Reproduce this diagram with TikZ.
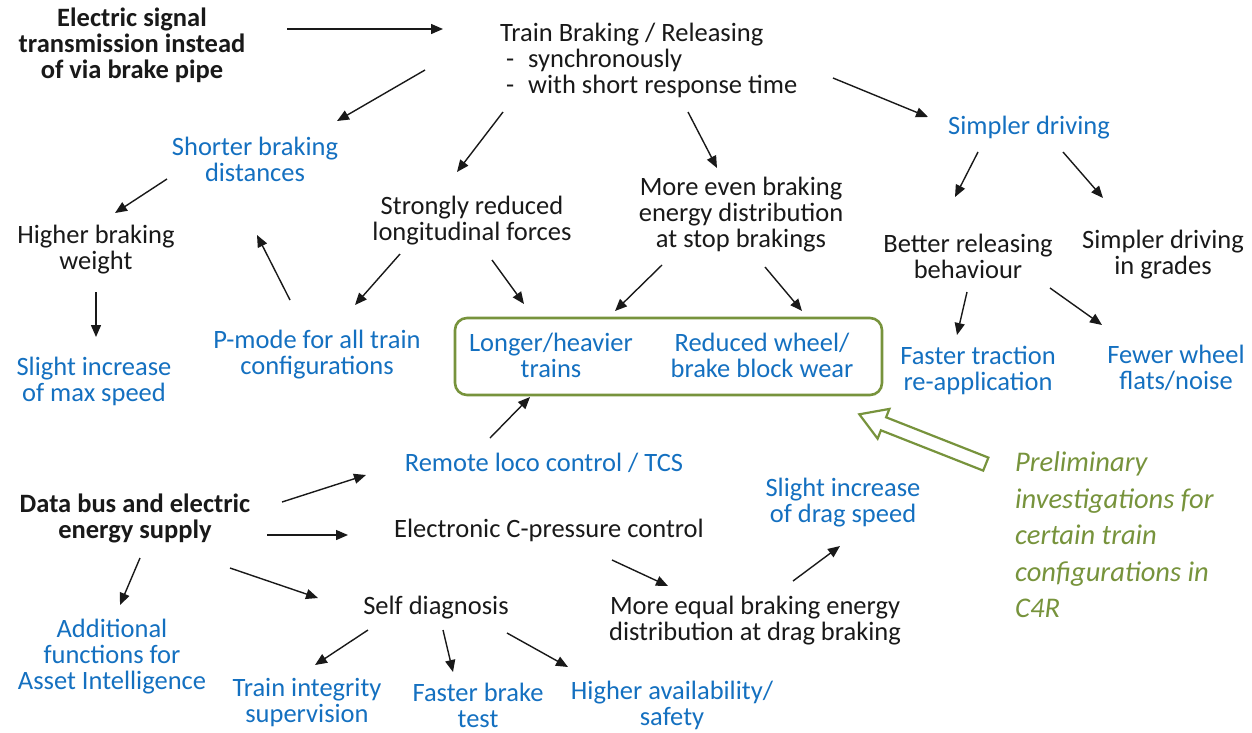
\documentclass[tikz,border=0pt]{standalone}
\usepackage{fontspec}
\setmainfont{Carlito}
\usetikzlibrary{arrows.meta}

\definecolor{effblue}{RGB}{20,112,192}
\definecolor{c4rgreen}{RGB}{119,147,60}
\definecolor{ink}{RGB}{25,25,25}

\begin{document}
\begin{tikzpicture}[x=1pt,y=-1pt,
  base/.style={inner sep=0pt, align=center, text=ink,
               font=\fontsize{26.5}{26}\selectfont},
  cause/.style={base, font=\bfseries\fontsize{26.5}{26}\selectfont},
  effect/.style={base, text=effblue},
  note/.style={inner sep=0pt, align=left, text=c4rgreen,
               font=\itshape\fontsize{28.5}{36.5}\selectfont},
  arr/.style={draw=ink, line width=1.4pt, -{Triangle[length=12pt,width=10pt]}},
  groupbox/.style={draw=c4rgreen, line width=2.6pt, rounded corners=12pt,
                   minimum width=427pt, minimum height=77pt, inner sep=0pt},
]
\useasboundingbox (0,0) rectangle (1252,732);

% ---------- upper half: electric signal transmission ----------
\node[cause] (elec) at (132,45) {Electric signal\\transmission instead\\of via brake pipe};
\node[base, align=left, anchor=west] (train) at (500,60)
  {Train Braking / Releasing\\\makebox[28pt][l]{\ -}synchronously\\\makebox[28pt][l]{\ -}with short response time};

\node[effect] (shorter) at (255,159) {Shorter braking\\distances};
\node[base] (higher) at (96,250) {Higher braking\\weight};
\node[effect] (slightmax) at (94,381) {Slight increase\\of max speed};
\node[effect] (pmode) at (317,355) {P-mode for all train\\configurations};
\node[base] (strongly) at (472,221) {Strongly reduced\\longitudinal forces};
\node[base] (moreeven) at (741,215) {More even braking\\energy distribution\\at stop brakings};
\node[effect] (simpler) at (1029,128) {Simpler driving};
\node[base] (better) at (968,256) {Better releasing\\behaviour};
\node[base] (grades) at (1163,255) {Simpler driving\\in grades};
\node[effect] (traction) at (978,370) {Faster traction\\re-application};
\node[effect] (fewer) at (1176,368) {Fewer wheel\\flats/noise};

% common benefits, framed
\node[groupbox] (box) at (668.5,356.5) {};
\node[effect] (longer) at (551,355) {Longer/heavier\\trains};
\node[effect] (reduced) at (762,355) {Reduced wheel/\\brake block wear};

% ---------- lower half: data bus and energy supply ----------
\node[cause] (databus) at (135,518) {Data bus and electric\\energy supply};
\node[effect] (remote) at (544,463) {Remote loco control / TCS};
\node[base] (electronic) at (549,530) {Electronic C-pressure control};
\node[effect] (additional) at (112,657) {Additional\\functions for\\Asset Intelligence};
\node[base] (selfdiag) at (436,608) {Self diagnosis};
\node[base] (moredrag) at (755,621) {More equal braking energy\\distribution at drag braking};
\node[effect] (slightdrag) at (843,503) {Slight increase\\of drag speed};
\node[effect] (integrity) at (307,703) {Train integrity\\supervision};
\node[effect] (fasterbrake) at (478,705) {Faster brake\\test};
\node[effect] (avail) at (672,705) {Higher availability/\\safety};

\node[note, anchor=west] (prelim) at (1015,535)
  {Preliminary\\investigations for\\certain train\\configurations in\\C4R};

% ---------- connectors ----------
\draw[arr] ([shift={(155,-16)}]elec.center) -- ([shift={(-57,-31)}]train.west);
\draw[arr] ([shift={(-75,10)}]train.west) -- ([shift={(82,-38)}]shorter.center);
\draw[arr] ([shift={(3,52)}]train.west) -- ([shift={(-15,-49)}]strongly.center);
\draw[arr] ([shift={(188,52)}]train.west) -- ([shift={(-24,-47)}]moreeven.center);
\draw[arr] ([shift={(333,18)}]train.west) -- ([shift={(-101,-11)}]simpler.center);
\draw[arr] ([shift={(-88,20)}]shorter.center) -- ([shift={(19,-37)}]higher.center);
\draw[arr] ([shift={(0,42)}]higher.center) -- ([shift={(2,-44)}]slightmax.center);
\draw[arr] ([shift={(-27,-55)}]pmode.center) -- ([shift={(2,76)}]shorter.center);
\draw[arr] ([shift={(-72,33)}]strongly.center) -- ([shift={(38,-50)}]pmode.center);
\draw[arr] ([shift={(20,39)}]strongly.center) -- ([shift={(-27,-51)}]longer.center);
\draw[arr] ([shift={(-79,50)}]moreeven.center) -- ([shift={(64,-44)}]longer.center);
\draw[arr] ([shift={(24,52)}]moreeven.center) -- ([shift={(40,-44)}]reduced.center);
\draw[arr] ([shift={(-51,24)}]simpler.center) -- ([shift={(-13,-59)}]better.center);
\draw[arr] ([shift={(34,24)}]simpler.center) -- ([shift={(-60,-57)}]grades.center);
\draw[arr] ([shift={(-1,36)}]better.center) -- ([shift={(-21,-35)}]traction.center);
\draw[arr] ([shift={(82,32)}]better.center) -- ([shift={(-74,-43)}]fewer.center);

\draw[arr] ([shift={(-54,-25)}]remote.center) -- ([shift={(-21,42)}]longer.center);
\draw[arr] ([shift={(147,-16)}]databus.center) -- ([shift={(-178,12)}]remote.center);
\draw[arr] ([shift={(132,17)}]databus.center) -- ([shift={(-201,5)}]electronic.center);
\draw[arr] ([shift={(5,40)}]databus.center) -- ([shift={(8,-52)}]additional.center);
\draw[arr] ([shift={(95,50)}]databus.center) -- ([shift={(-118,-10)}]selfdiag.center);
\draw[arr] ([shift={(63,30)}]electronic.center) -- ([shift={(-87,-35)}]moredrag.center);
\draw[arr] ([shift={(38,-40)}]moredrag.center) -- ([shift={(-3,43)}]slightdrag.center);
\draw[arr] ([shift={(-68,22)}]selfdiag.center) -- ([shift={(8,-38)}]integrity.center);
\draw[arr] ([shift={(7,22)}]selfdiag.center) -- ([shift={(-25,-33)}]fasterbrake.center);
\draw[arr] ([shift={(71,25)}]selfdiag.center) -- ([shift={(-104,-38)}]avail.center);

% hollow block arrow from the note to the framed group
\begin{scope}[shift={(box.south east)}]
  \draw[c4rgreen, line width=2.2pt, fill=white, line join=miter]
    (-24,18) -- (6.1,12.6) -- (2.8,21) -- (105.1,61.3) -- (99.9,74.3)
    -- (-2.4,34) -- (-5.7,42.4) -- cycle;
\end{scope}
\end{tikzpicture}
\end{document}
